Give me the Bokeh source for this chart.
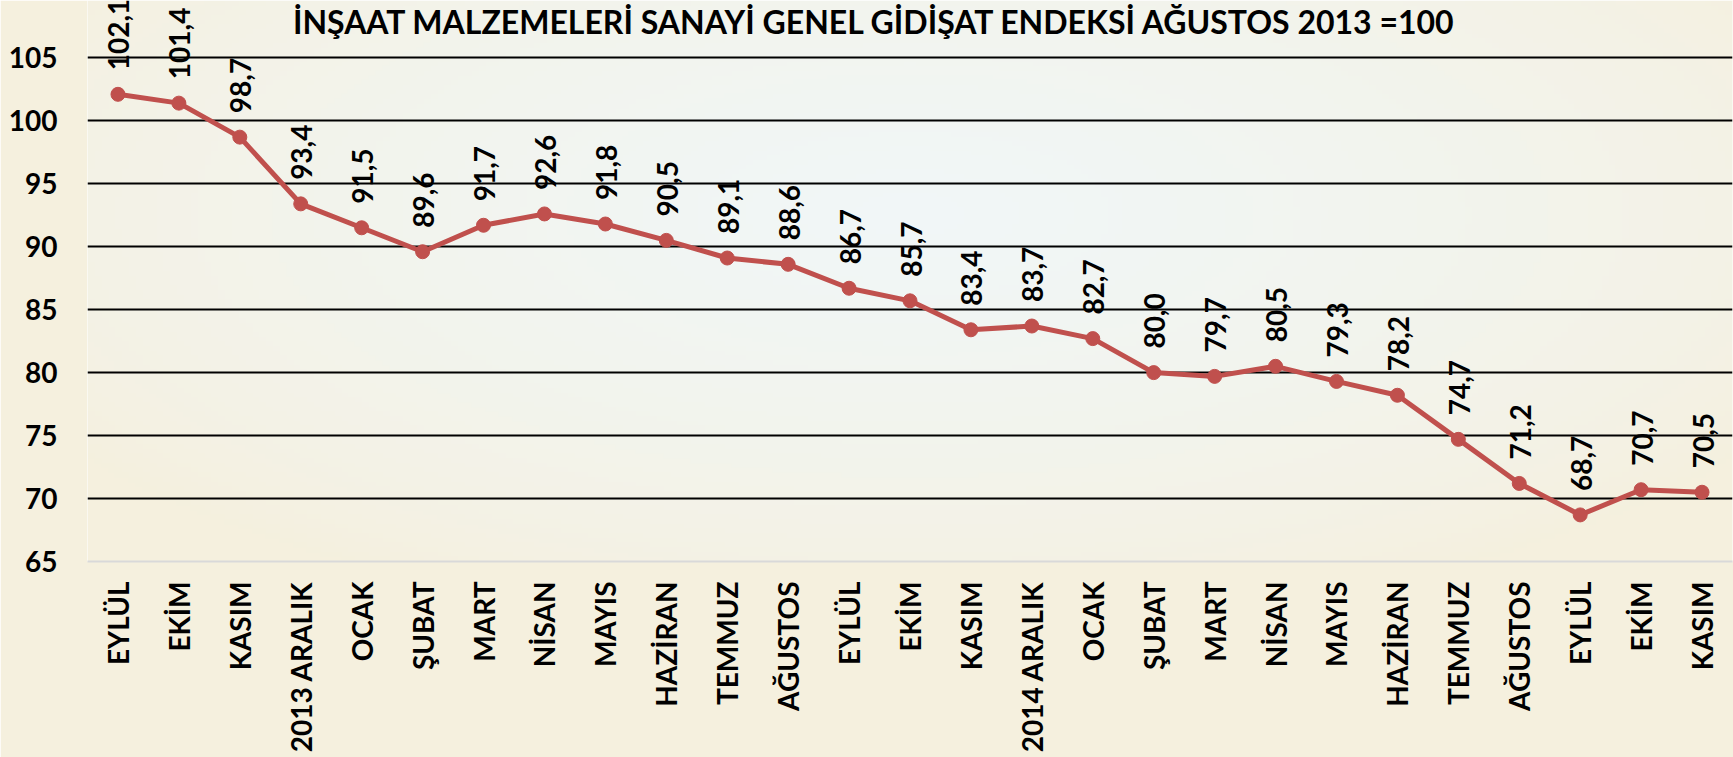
import numpy as np
from math import pi
from bokeh.plotting import figure
from bokeh.models import Range1d, FixedTicker, ColumnDataSource, Label
from bokeh.core.properties import value
from bokeh.embed import file_html
from bokeh.resources import INLINE

# ---- data ----
months = ["EYLÜL", "EKİM", "KASIM", "2013 ARALIK", "OCAK", "ŞUBAT", "MART", "NİSAN",
          "MAYIS", "HAZİRAN", "TEMMUZ", "AĞUSTOS", "EYLÜL", "EKİM", "KASIM",
          "2014 ARALIK", "OCAK", "ŞUBAT", "MART", "NİSAN", "MAYIS", "HAZİRAN",
          "TEMMUZ", "AĞUSTOS", "EYLÜL", "EKİM", "KASIM"]
index_values = [102.1, 101.4, 98.7, 93.4, 91.5, 89.6, 91.7, 92.6, 91.8, 90.5, 89.1,
                88.6, 86.7, 85.7, 83.4, 83.7, 82.7, 80.0, 79.7, 80.5, 79.3, 78.2,
                74.7, 71.2, 68.7, 70.7, 70.5]
y_ticks = [65, 70, 75, 80, 85, 90, 95, 100, 105]
title_text = "İNŞAAT MALZEMELERİ SANAYİ GENEL GİDİŞAT ENDEKSİ AĞUSTOS 2013 =100"

FONT = "Lato"
RED = "#c0504d"
CREAM = "#f5f0de"

xs = list(range(len(months)))
labels = [f"{v:.1f}".replace(".", ",") for v in index_values]
src = ColumnDataSource(dict(x=xs, y=index_values, lab=labels))

X0, X1 = -0.5, 26.5
Y0, Y1 = 65, 109.55

p = figure(frame_width=1645, frame_height=561, output_backend="svg",
           toolbar_location=None,
           x_range=Range1d(X0, X1), y_range=Range1d(Y0, Y1),
           min_border_left=87, min_border_right=1, min_border_top=0,
           min_border_bottom=196)
p.border_fill_color = CREAM
p.outline_line_color = None

# background gradient inside the plot frame
nx, ny = 240, 120
gx = np.linspace(0, 1, nx)
gy = np.linspace(0, 1, ny)
GX, GY = np.meshgrid(gx, gy)
d = np.sqrt(((GX - 0.5) / 0.62) ** 2 + ((GY - 0.62) / 0.75) ** 2)
w = np.clip(1 - d, 0, 1) ** 0.7
c1 = np.array([245, 240, 222])
c2 = np.array([241, 247, 248])
rgb = (c1[None, None, :] * (1 - w[..., None]) + c2[None, None, :] * w[..., None]).astype(np.uint32)
img = (255 << 24) | (rgb[..., 2] << 16) | (rgb[..., 1] << 8) | rgb[..., 0]
p.image_rgba(image=[img.astype(np.uint32)], x=X0, y=Y0, dw=X1 - X0, dh=Y1 - Y0, level="image")

# grid
p.xgrid.visible = False
p.ygrid.ticker = FixedTicker(ticks=y_ticks[1:])
p.ygrid.grid_line_color = "#000000"
p.ygrid.grid_line_width = 2

# axes
p.yaxis.ticker = FixedTicker(ticks=y_ticks)
p.yaxis.axis_line_color = None
p.yaxis.major_tick_line_color = None
p.yaxis.minor_tick_line_color = None
p.yaxis.major_tick_out = 0
p.yaxis.major_label_standoff = 30
p.yaxis.major_label_text_font = FONT
p.yaxis.major_label_text_font_style = "bold"
p.yaxis.major_label_text_font_size = "28px"
p.yaxis.major_label_text_color = "#000000"

p.xaxis.ticker = FixedTicker(ticks=xs)
p.xaxis.major_label_overrides = {i: m for i, m in zip(xs, months)}
p.xaxis.major_label_orientation = pi / 2
p.xaxis.axis_line_color = "#d9d9d9"
p.xaxis.axis_line_width = 2
p.xaxis.major_tick_line_color = None
p.xaxis.minor_tick_line_color = None
p.xaxis.major_tick_out = 0
p.xaxis.major_label_standoff = 20
p.xaxis.major_label_text_font = FONT
p.xaxis.major_label_text_font_style = "bold"
p.xaxis.major_label_text_font_size = "28px"
p.xaxis.major_label_text_color = "#000000"

# series
p.line("x", "y", source=src, line_color=RED, line_width=5)
p.scatter("x", "y", source=src, size=14, fill_color=RED, line_color=RED)

# data labels
p.text("x", "y", text="lab", source=src, angle=pi / 2, text_align="left",
       text_baseline="middle", y_offset=-24, x_offset=1,
       text_font=value(FONT), text_font_style="bold", text_font_size="28px",
       text_color="#000000")

# title
p.add_layout(Label(x=12.43, y=Y1, text=title_text, text_align="center",
                   text_baseline="top", y_offset=-1, text_font=FONT,
                   text_font_style="bold", text_font_size="32px",
                   text_color="#000000"))

open("out.html", "w").write(file_html(p, INLINE))
